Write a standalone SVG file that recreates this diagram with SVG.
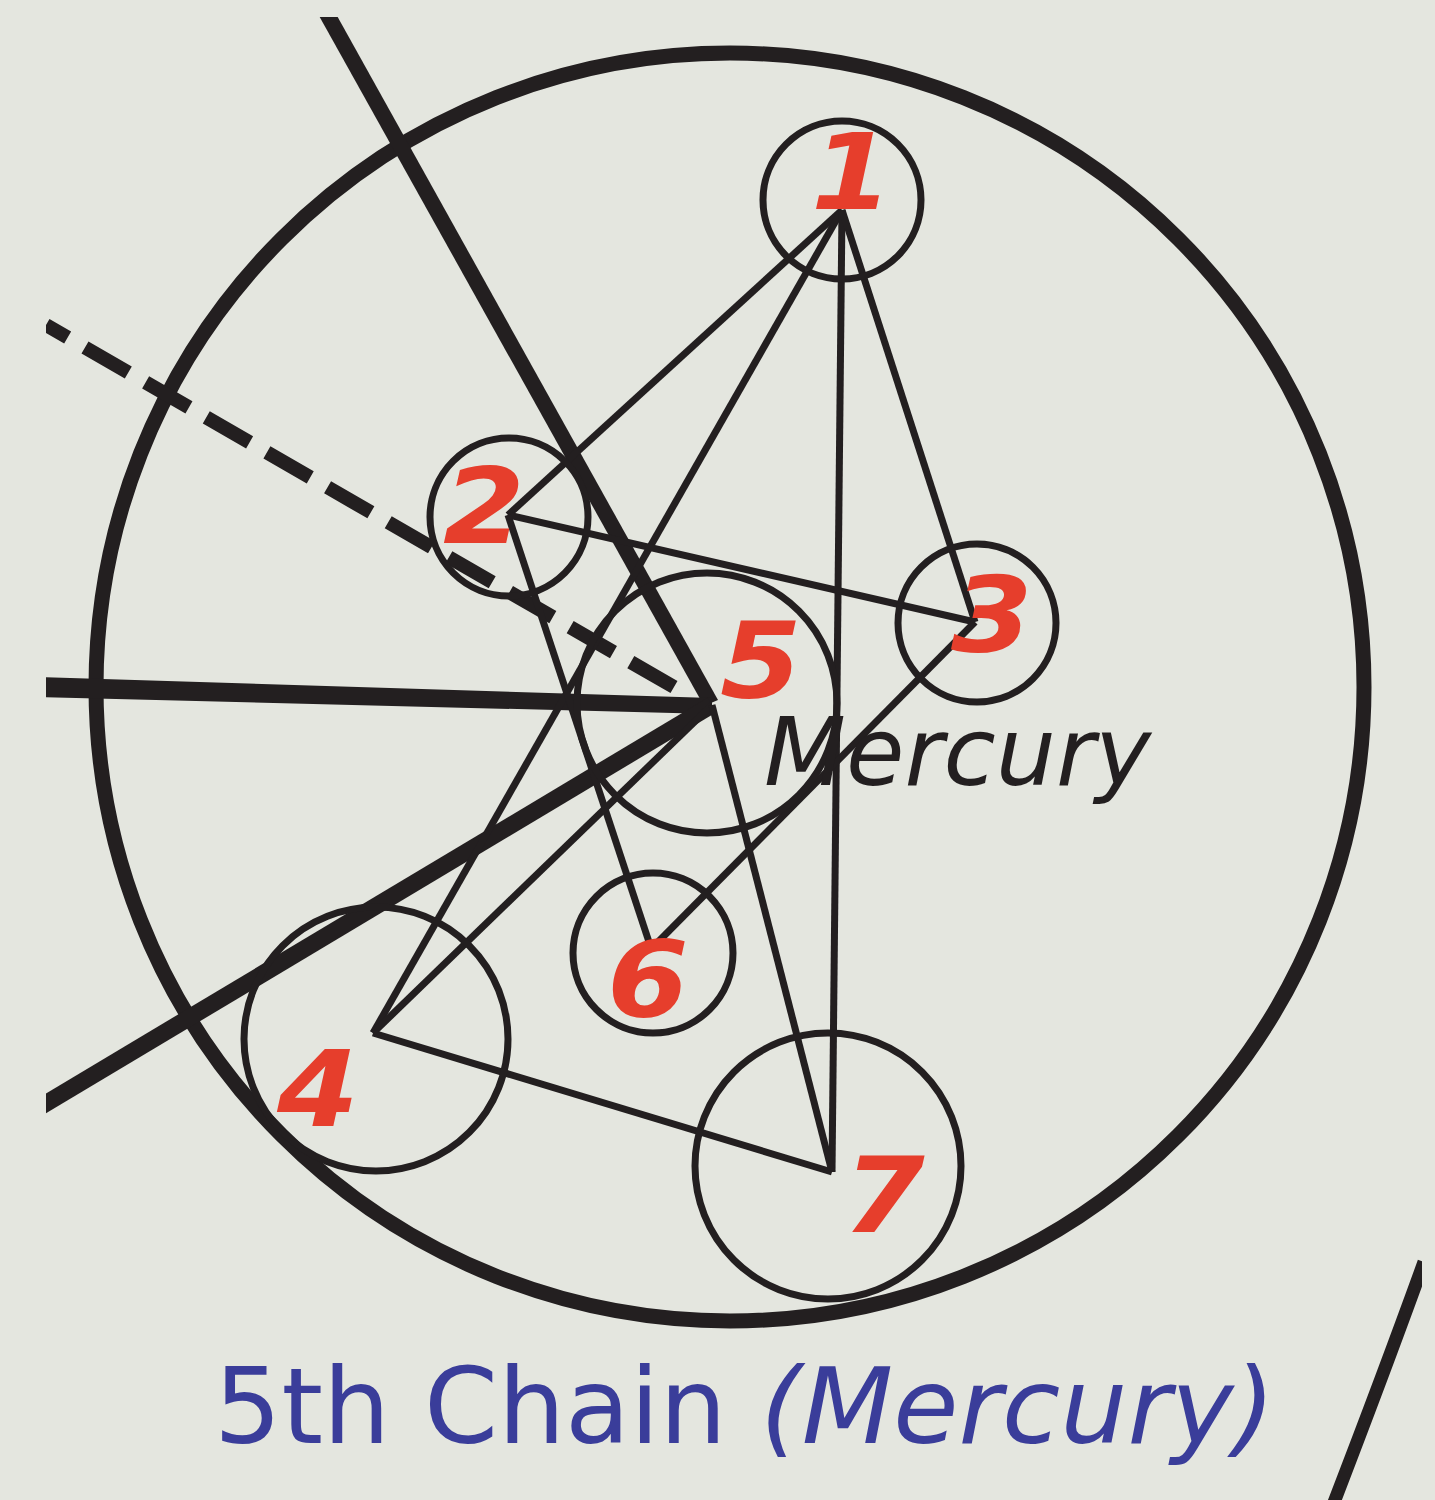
<svg xmlns="http://www.w3.org/2000/svg" width="1435" height="1500" viewBox="0 0 1435 1500">
<style>
.ring{fill:none;stroke:#231f20;stroke-width:7}
.thin{stroke:#231f20;stroke-width:7;stroke-linecap:butt;fill:none}
.thick{stroke:#231f20;stroke-linecap:butt;fill:none}
.num{font-family:"DejaVu Sans",sans-serif;font-weight:bold;font-style:oblique;font-size:105px;fill:#e63e2c;text-anchor:middle}
</style>
<defs>
<clipPath id="frame"><rect x="46" y="17" width="1376" height="1483"/></clipPath>
</defs>
<rect width="1435" height="1500" fill="#e4e6df"/>
<g id="outer-orbit">
<circle cx="730" cy="687" r="634" fill="none" stroke="#231f20" stroke-width="15"/>
</g>
<g id="connectors" clip-path="url(#frame)">
<polygon points="318,14 336,14 718,700 704,706" fill="#231f20"/>
<polygon points="40,677 40,697 712,714 712,698" fill="#231f20"/>
<line class="thick" x1="40" y1="1107" x2="712" y2="705" stroke-width="17"/>
<line class="thick" x1="46" y1="325" x2="674" y2="687" stroke-width="14" stroke-dasharray="50 20" stroke-dashoffset="25"/>
<path class="thick" d="M1424,1262 Q1385,1370 1333,1505" stroke-width="13"/>
<line class="thin" x1="842" y1="210" x2="508" y2="515"/>
<line class="thin" x1="842" y1="210" x2="373" y2="1033"/>
<line class="thin" x1="842" y1="210" x2="832" y2="1172"/>
<line class="thin" x1="842" y1="210" x2="975" y2="622"/>
<line class="thin" x1="508" y1="515" x2="975" y2="622"/>
<line class="thin" x1="508" y1="515" x2="650" y2="945"/>
<line class="thin" x1="975" y1="622" x2="655" y2="945"/>
<line class="thin" x1="373" y1="1033" x2="712" y2="705"/>
<line class="thin" x1="373" y1="1033" x2="832" y2="1172"/>
<line class="thin" x1="712" y1="705" x2="832" y2="1172"/>
</g>
<g id="node1"><circle class="ring" cx="842" cy="200" r="79"/><text class="num" transform="translate(852,209) scale(1.12,1)">1</text></g>
<g id="node2"><circle class="ring" cx="509" cy="517" r="79"/><text class="num" transform="translate(484,543) scale(1.12,1)">2</text></g>
<g id="node3"><circle class="ring" cx="977" cy="623" r="79"/><text class="num" transform="translate(992,652) scale(1.12,1)">3</text></g>
<g id="node5"><circle class="ring" cx="707" cy="703" r="130"/><text class="num" transform="translate(761,698) scale(1.12,1)">5</text></g>
<g id="node6"><circle class="ring" cx="653" cy="953" r="80"/><text class="num" transform="translate(648,1016) scale(1.12,1)">6</text></g>
<g id="node4"><circle class="ring" cx="376" cy="1039" r="132"/><text class="num" transform="translate(318,1126) scale(1.12,1)">4</text></g>
<g id="node7"><circle class="ring" cx="828" cy="1166" r="133"/><text class="num" transform="translate(884,1232) scale(1.12,1)">7</text></g>
<g id="label-mercury"><text x="764" y="785" font-family="DejaVu Sans, sans-serif" font-style="oblique" font-size="95" fill="#231f20">Mercury</text></g>
<g id="title"><text x="214" y="1443" font-family="DejaVu Sans, sans-serif" font-size="106" fill="#3a3d9a">5th Chain <tspan font-style="oblique">(Mercury)</tspan></text></g>
</svg>
